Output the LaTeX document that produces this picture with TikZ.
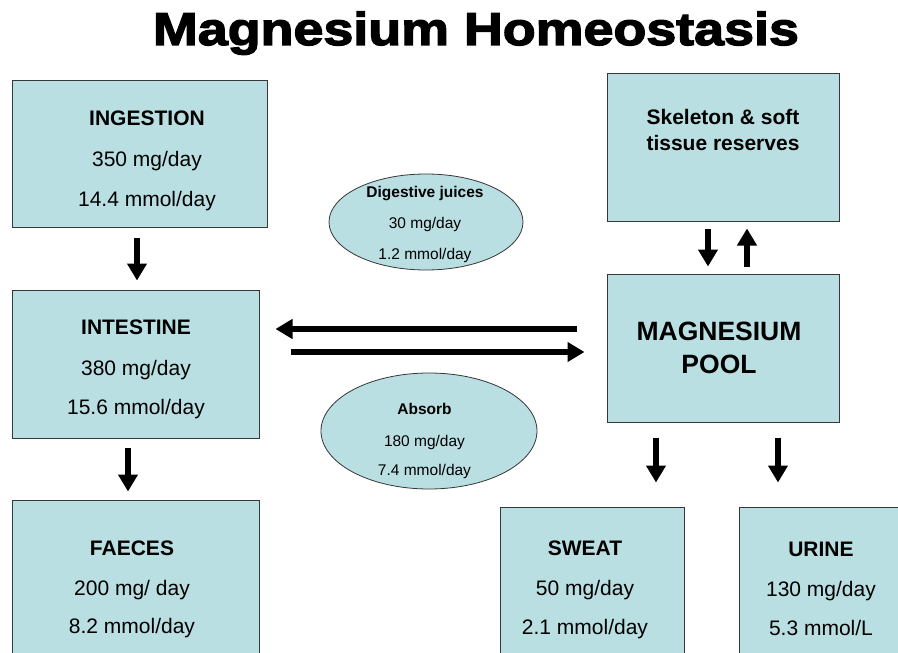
\documentclass[tikz,border=0pt]{standalone}
\usepackage{fontspec}
\setmainfont{Liberation Sans}
\newfontfamily\titlefont{Liberation Sans}[FakeBold=3,FakeStretch=1.17]
\usetikzlibrary{arrows.meta,shapes.geometric}
\definecolor{boxfill}{RGB}{186,223,226}
\definecolor{boxline}{RGB}{55,55,55}
\tikzset{
  box/.style={rectangle, draw=boxline, line width=1pt, fill=boxfill, inner sep=0pt},
  ell/.style={ellipse, draw=boxline, line width=0.8pt, fill=boxfill, inner sep=0pt},
  arr/.style={line width=6pt, -{Triangle[width=19pt,length=17pt]}},
  txt/.style={anchor=base, inner sep=0pt, font=\fontsize{21}{25}\selectfont},
  txtb/.style={anchor=base, inner sep=0pt, font=\fontsize{21}{25}\selectfont\bfseries},
  bigb/.style={anchor=base, inner sep=0pt, font=\fontsize{26.5}{30}\selectfont\bfseries},
  sm/.style={anchor=base, inner sep=0pt, font=\fontsize{15.5}{18}\selectfont},
  smb/.style={anchor=base, inner sep=0pt, font=\fontsize{15.5}{18}\selectfont\bfseries}
}
\begin{document}
\begin{tikzpicture}[x=1pt,y=-1pt]
\useasboundingbox (0,0) rectangle (898,653);
\clip (0,0) rectangle (898,653);
\fill[white] (0,0) rectangle (898,653);

% title
\node[anchor=base, inner sep=0pt, font=\titlefont\bfseries\fontsize{46}{50}\selectfont] (title) at (476,45) {Magnesium Homeostasis};

% boxes
\node[box, minimum width=255pt, minimum height=147pt] (ing) at (139.5,153.5) {};
\node[box, minimum width=247pt, minimum height=148pt] (int) at (135.5,364) {};
\node[box, minimum width=247pt, minimum height=220pt] (fae) at (135.5,610) {};
\node[box, minimum width=232pt, minimum height=148pt] (skel) at (723,147) {};
\node[box, minimum width=232pt, minimum height=148pt] (pool) at (723,348) {};
\node[box, minimum width=184pt, minimum height=213pt] (sweat) at (592,613.5) {};
\node[box, minimum width=261pt, minimum height=213pt] (urine) at (869.5,613.5) {};

% ellipses
\node[ell, minimum width=194pt, minimum height=96pt] (dig) at (426,222) {};
\node[ell, minimum width=216pt, minimum height=116pt] (abs) at (429,431) {};

% texts
\node[txtb] (ing1) at (147,125) {INGESTION};
\node[txt]  (ing2) at (147,166) {350 mg/day};
\node[txt]  (ing3) at (147,206) {14.4 mmol/day};

\node[txtb] (int1) at (136,334) {INTESTINE};
\node[txt]  (int2) at (136,375) {380 mg/day};
\node[txt]  (int3) at (136,414) {15.6 mmol/day};

\node[txtb] (fae1) at (132,555) {FAECES};
\node[txt]  (fae2) at (132,595) {200 mg/ day};
\node[txt]  (fae3) at (132,633) {8.2 mmol/day};

\node[txtb] (sw1) at (585,555) {SWEAT};
\node[txt]  (sw2) at (585,595) {50 mg/day};
\node[txt]  (sw3) at (585,634) {2.1 mmol/day};

\node[txtb] (ur1) at (821,556) {URINE};
\node[txt]  (ur2) at (821,596) {130 mg/day};
\node[txt]  (ur3) at (821,635) {5.3 mmol/L};

\node[txtb] (sk1) at (723,124) {Skeleton \& soft};
\node[txtb] (sk2) at (723,150) {tissue reserves};

\node[bigb] (po1) at (719,340) {MAGNESIUM};
\node[bigb] (po2) at (719,373) {POOL};

\node[smb] (dg1) at (425,197) {Digestive juices};
\node[sm]  (dg2) at (425,228) {30 mg/day};
\node[sm]  (dg3) at (425,259) {1.2 mmol/day};

\node[smb] (ab1) at (424.5,414) {Absorb};
\node[sm]  (ab2) at (424.5,446) {180 mg/day};
\node[sm]  (ab3) at (424.5,475) {7.4 mmol/day};

% helper coordinates
\coordinate (xa) at (137,0);
\coordinate (xb) at (128,0);
\coordinate (xc) at (708,0);
\coordinate (xd) at (747,0);
\coordinate (xe) at (656,0);
\coordinate (xf) at (778,0);
\coordinate (ya) at (0,329);
\coordinate (yb) at (0,352);

% arrows
\draw[arr, shorten <=10pt, shorten >=9pt] (ing.south -| xa) -- (int.north -| xa);
\draw[arr, shorten <=9pt, shorten >=8pt] (int.south -| xb) -- (fae.north -| xb);
\draw[arr, shorten <=7pt, shorten >=7pt] (skel.south -| xc) -- (pool.north -| xc);
\draw[arr, shorten <=7pt, shorten >=7pt] (pool.north -| xd) -- (skel.south -| xd);
\draw[arr, shorten <=15pt, shorten >=24pt] (pool.south -| xe) -- (sweat.north -| xe);
\draw[arr, shorten <=15pt, shorten >=24pt] (pool.south -| xf) -- (urine.north -| xf);
\draw[arr, shorten <=30pt, shorten >=16pt] (pool.west |- ya) -- (int.east |- ya);
\draw[arr, shorten <=31pt, shorten >=22pt] (int.east |- yb) -- (pool.west |- yb);
\end{tikzpicture}
\end{document}
